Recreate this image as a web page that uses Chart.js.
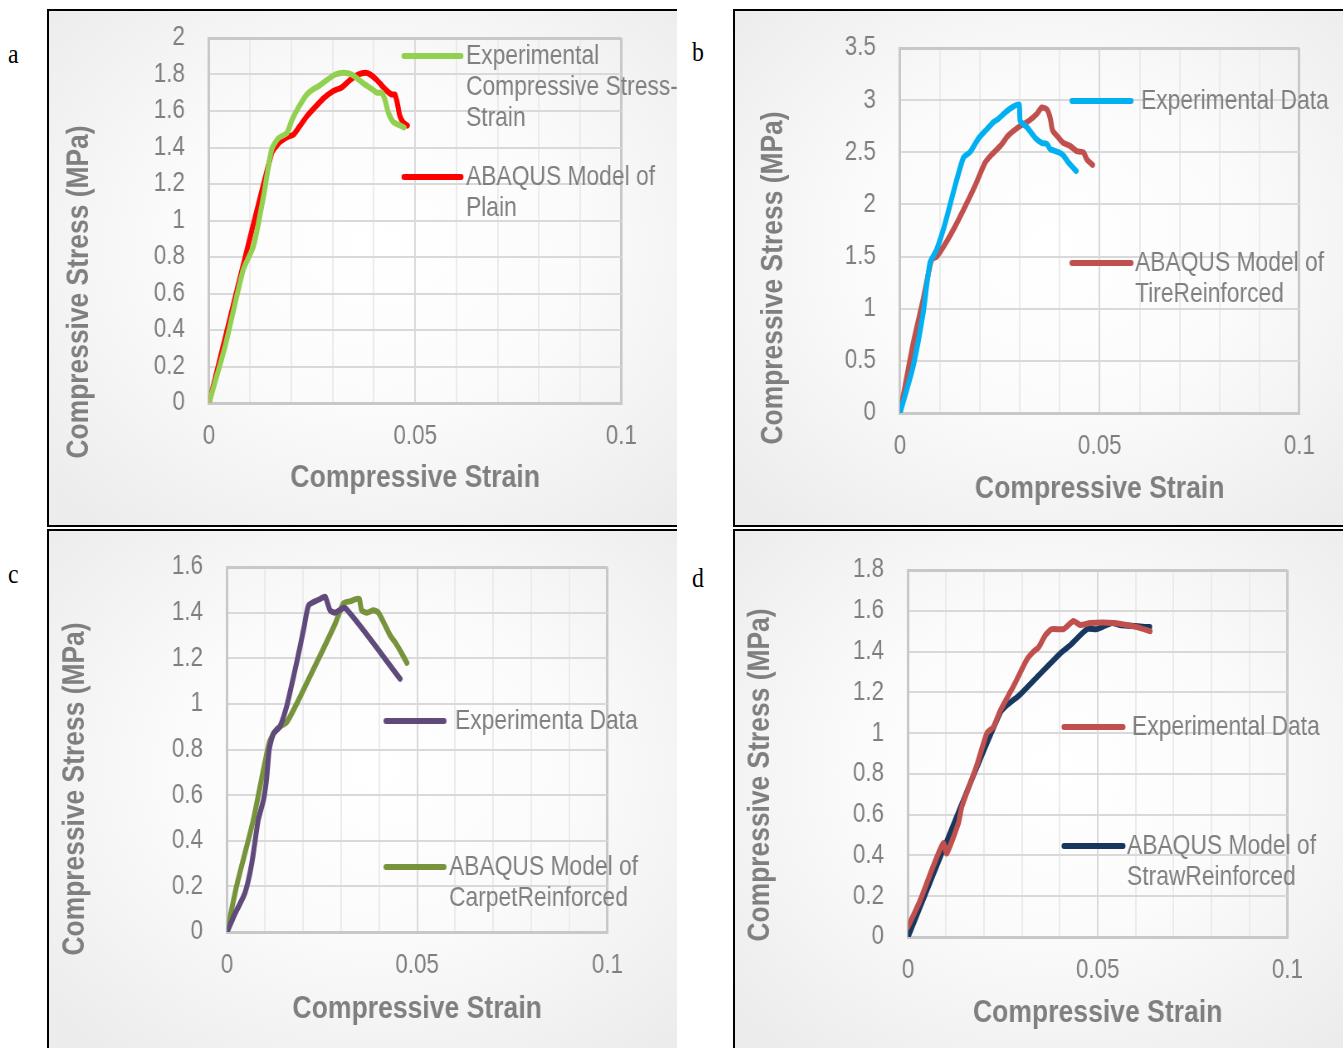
<!DOCTYPE html>
<html>
<head>
<meta charset="utf-8">
<script src="https://cdn.jsdelivr.net/npm/chart.js@4.4.0/dist/chart.umd.min.js"></script>
<style>
  body { margin: 0; width: 1343px; height: 1048px; background: #fff; position: relative; overflow: hidden; }
  .panel { position: absolute; box-sizing: border-box; border: 0 solid #000; overflow: hidden;
    background: radial-gradient(ellipse 70% 70% at 52% 46%, #ffffff 0%, #fbfbfb 45%, #ececec 100%); }
  .panel canvas { position: absolute; left: 0; top: 0; transform-origin: 0 0; }
  .tag { position: absolute; font-family: "Liberation Serif", "Times New Roman", serif; font-size: 28px;
    line-height: 28px; color: #000; transform: scaleX(0.85); transform-origin: left top; }
</style>
</head>
<body>
<div class="tag" style="left:8px;top:40px">a</div>
<div class="tag" style="left:692px;top:38px">b</div>
<div class="tag" style="left:8px;top:560px">c</div>
<div class="tag" style="left:692px;top:564px">d</div>

<div class="panel" style="left:47px;top:9px;width:630px;height:518px;border-width:2px 0 2px 2px"><canvas id="chartA"></canvas></div>
<div class="panel" style="left:733px;top:9px;width:610px;height:518px;border-width:2px 0 2px 2px"><canvas id="chartB"></canvas></div>
<div class="panel" style="left:47px;top:529px;width:630px;height:519px;border-width:2px 0 0 2px"><canvas id="chartC"></canvas></div>
<div class="panel" style="left:733px;top:529px;width:610px;height:519px;border-width:2px 0 0 2px"><canvas id="chartD"></canvas></div>

<script>
// (a) plain specimen
const plainExpStrain = [0, 0.0039, 0.0083, 0.0108, 0.0132, 0.0152, 0.0168, 0.0189, 0.0201, 0.0217, 0.0237, 0.0253, 0.0269, 0.0286, 0.0306, 0.0326, 0.0346, 0.0375, 0.0395, 0.0407, 0.0419, 0.0427, 0.0435, 0.0447, 0.0464, 0.0473];
const plainExpStress = [0, 0.31, 0.73, 0.86, 1.13, 1.39, 1.45, 1.48, 1.55, 1.62, 1.69, 1.72, 1.74, 1.77, 1.80, 1.81, 1.80, 1.75, 1.72, 1.70, 1.70, 1.66, 1.59, 1.54, 1.52, 1.51];
const plainModelStrain = [0, 0.0152, 0.0172, 0.0193, 0.0205, 0.0221, 0.0237, 0.0257, 0.0278, 0.0302, 0.0322, 0.0342, 0.0362, 0.0379, 0.0391, 0.0407, 0.0427, 0.0443, 0.0451, 0.0457, 0.0462, 0.0470, 0.0481];
const plainModelStress = [0, 1.37, 1.43, 1.46, 1.47, 1.52, 1.57, 1.62, 1.67, 1.71, 1.73, 1.77, 1.80, 1.81, 1.80, 1.77, 1.72, 1.69, 1.69, 1.64, 1.58, 1.54, 1.52];

// (b) tire reinforced
const tireExpStrain = [0, 0.0033, 0.0058, 0.0075, 0.0092, 0.0113, 0.0138, 0.0159, 0.0175, 0.0196, 0.0217, 0.0234, 0.0246, 0.0263, 0.0280, 0.0298, 0.0301, 0.0318, 0.0338, 0.0355, 0.0368, 0.0376, 0.0397, 0.0409, 0.0422, 0.0441];
const tireExpStress = [0, 0.45, 0.96, 1.44, 1.57, 1.82, 2.18, 2.45, 2.50, 2.63, 2.72, 2.79, 2.82, 2.88, 2.93, 2.96, 2.80, 2.74, 2.64, 2.59, 2.58, 2.53, 2.50, 2.47, 2.40, 2.32];
const tireModelStrain = [0, 0.0033, 0.0058, 0.0079, 0.0092, 0.0113, 0.0138, 0.0163, 0.0188, 0.0213, 0.0230, 0.0251, 0.0271, 0.0296, 0.0322, 0.0343, 0.0355, 0.0368, 0.0376, 0.0382, 0.0397, 0.0409, 0.0426, 0.0443, 0.0459, 0.0468, 0.0482];
const tireModelStress = [0, 0.67, 1.09, 1.47, 1.50, 1.62, 1.79, 1.98, 2.18, 2.40, 2.48, 2.56, 2.66, 2.74, 2.80, 2.87, 2.93, 2.91, 2.83, 2.71, 2.64, 2.59, 2.56, 2.51, 2.50, 2.43, 2.38];

// (c) carpet reinforced
const carpetExpStrain = [0, 0.0021, 0.0047, 0.0065, 0.0082, 0.0096, 0.0104, 0.0111, 0.0122, 0.0139, 0.0157, 0.0175, 0.0192, 0.0203, 0.0214, 0.0232, 0.0245, 0.0258, 0.0271, 0.0284, 0.0311, 0.0455];
const carpetExpStress = [0, 0.08, 0.17, 0.30, 0.49, 0.58, 0.67, 0.80, 0.87, 0.90, 0.99, 1.12, 1.25, 1.34, 1.43, 1.45, 1.46, 1.47, 1.41, 1.40, 1.42, 1.11];
const carpetModelStrain = [0, 0.0025, 0.0069, 0.0111, 0.0131, 0.0157, 0.0183, 0.0218, 0.0253, 0.0284, 0.0306, 0.0324, 0.0341, 0.0348, 0.0354, 0.0368, 0.0385, 0.0398, 0.0411, 0.0429, 0.0442, 0.0460, 0.0473];
const carpetModelStress = [0, 0.20, 0.49, 0.83, 0.89, 0.92, 1.00, 1.12, 1.24, 1.35, 1.44, 1.45, 1.46, 1.46, 1.41, 1.40, 1.41, 1.40, 1.36, 1.30, 1.27, 1.22, 1.18];

// (d) straw reinforced
const strawExpStrain = [0, 0.0032, 0.0067, 0.0093, 0.0102, 0.0133, 0.0142, 0.0181, 0.0208, 0.0225, 0.0243, 0.0278, 0.0313, 0.0331, 0.0344, 0.0362, 0.0379, 0.0410, 0.0436, 0.0454, 0.0480, 0.0542, 0.0603, 0.0638];
const strawExpStress = [0.05, 0.18, 0.35, 0.46, 0.41, 0.56, 0.64, 0.84, 1.00, 1.03, 1.11, 1.23, 1.36, 1.40, 1.42, 1.48, 1.51, 1.51, 1.55, 1.53, 1.54, 1.54, 1.52, 1.50];
const strawModelStrain = [0, 0.0243, 0.0296, 0.0348, 0.0401, 0.0427, 0.0472, 0.0498, 0.0537, 0.0559, 0.0637];
const strawModelStress = [0, 1.10, 1.19, 1.29, 1.39, 1.43, 1.51, 1.51, 1.54, 1.53, 1.52];

// legend text, one array of wrapped lines per series
const legendA = [['Experimental', 'Compressive Stress-', 'Strain'], ['ABAQUS Model of', 'Plain']];
const legendB = [['Experimental Data'], ['ABAQUS Model of', 'TireReinforced']];
const legendC = [['Experimenta Data'], ['ABAQUS Model of', 'CarpetReinforced']];
const legendD = [['Experimental Data'], ['ABAQUS Model of', 'StrawReinforced']];

const xTickValues = [0, 0.05, 0.1];
const xTitle = 'Compressive Strain';
const yTitle = 'Compressive Stress (MPa)';

const GRAY = '#7f7f7f';
const SANS = '"Liberation Sans", Arial, sans-serif';
// the charts are drawn wide and squeezed horizontally, which gives the condensed lettering
const K = 0.83;

function points(xs, ys) {
  return xs.map((x, i) => ({ x: x, y: ys[i] }));
}

// hand-placed legend: a short thick line followed by wrapped text
const lineLegend = {
  id: 'lineLegend',
  afterDraw(chart, args, opts) {
    const ctx = chart.ctx;
    ctx.save();
    opts.items.forEach((it, i) => {
      const ds = chart.data.datasets[i];
      ctx.strokeStyle = ds.borderColor;
      ctx.lineWidth = 6;
      ctx.lineCap = 'round';
      ctx.beginPath();
      ctx.moveTo(opts.x0, it.y);
      ctx.lineTo(opts.x1, it.y);
      ctx.stroke();
      ctx.fillStyle = GRAY;
      ctx.font = '27.5px ' + SANS;
      ctx.textBaseline = 'middle';
      ctx.textAlign = 'left';
      it.lines.forEach((t, k) => ctx.fillText(t, it.tx, it.y + k * 31));
    });
    ctx.restore();
  }
};

// rotated value-axis title, placed freely along the axis; the second scale
// undoes the horizontal squeeze so the letters keep their full weight
const sideTitle = {
  id: 'sideTitle',
  afterDraw(chart, args, opts) {
    const ctx = chart.ctx;
    ctx.save();
    ctx.translate(opts.x, opts.y);
    ctx.rotate(-Math.PI / 2);
    ctx.scale(0.88, 1 / K);
    ctx.fillStyle = GRAY;
    ctx.font = 'bold 30px ' + SANS;
    ctx.textAlign = 'center';
    ctx.textBaseline = 'middle';
    ctx.fillText(opts.text, 0, 0);
    ctx.restore();
  }
};

function makeChart(id, s) {
  const canvas = document.getElementById(id);
  canvas.width = Math.round(s.w / K);
  canvas.height = s.h;
  canvas.style.transform = 'scaleX(' + K + ')';

  const datasets = s.series.map(sr => ({
    label: sr.lines.join(' '),
    data: points(sr.xs, sr.ys),
    borderColor: sr.color,
    backgroundColor: sr.color,
    borderWidth: 6,
    pointRadius: 0,
    showLine: true,
    tension: 0.2,
    borderCapStyle: 'round',
    borderJoinStyle: 'round'
  }));

  return new Chart(canvas, {
    type: 'scatter',
    data: { datasets: datasets },
    plugins: [lineLegend, sideTitle],
    options: {
      responsive: false,
      animation: false,
      events: [],
      layout: { padding: { left: 0, top: s.top, right: s.right / K, bottom: 0 } },
      plugins: {
        legend: { display: false },
        tooltip: { enabled: false },
        lineLegend: {
          x0: s.legend.x0 / K, x1: s.legend.x1 / K,
          items: s.series.map((sr, i) => ({ lines: sr.lines, y: s.legend.ys[i], tx: s.legend.tx[i] / K }))
        },
        sideTitle: { text: yTitle, x: s.yTitle[0] / K, y: s.yTitle[1] }
      },
      scales: {
        x: {
          type: 'linear',
          min: 0, max: 0.1,
          afterFit: sc => {
            sc.height = s.xHeight;
            sc.paddingLeft = 0; sc.paddingRight = 0;
          },
          afterBuildTicks: sc => {
            sc.ticks = [];
            for (let k = 0; k <= 10; k++) sc.ticks.push({ value: k / 100 });
          },
          ticks: {
            autoSkip: false, maxRotation: 0, padding: 17,
            color: GRAY, font: { family: SANS, size: 27 },
            callback: v => {
              const hit = xTickValues.find(t => Math.abs(t - v) < 1e-9);
              return hit === undefined ? '' : String(hit);
            }
          },
          grid: {
            drawTicks: false,
            lineWidth: c => (c.tick && Math.abs(c.tick.value - 0.1) < 1e-9) ? 3 : 2,
            color: c => {
              const v = c.tick ? c.tick.value : 0;
              if (Math.abs(v - 0.1) < 1e-9) return '#c8c8c8';
              return xTickValues.some(t => Math.abs(t - v) < 1e-9) ? '#d9d9d9' : '#ebebeb';
            }
          },
          border: { display: true, color: '#c8c8c8', width: 3 },
          title: {
            display: true, text: xTitle, color: GRAY,
            font: { family: SANS, size: 32, weight: 'bold' },
            padding: { top: 0, bottom: s.xTitlePad }
          }
        },
        y: {
          min: 0, max: s.yMax,
          afterFit: sc => {
            sc.width = s.yWidth / K;
            sc.paddingTop = 0; sc.paddingBottom = 0;
          },
          ticks: {
            stepSize: s.yStep, padding: 24 / K, autoSkip: false,
            color: GRAY, font: { family: SANS, size: 27 },
            callback: v => String(+v.toFixed(1))
          },
          grid: {
            drawTicks: false,
            lineWidth: c => (c.tick && Math.abs(c.tick.value - s.yMax) < 1e-9) ? 3 : 2,
            color: c => (c.tick && Math.abs(c.tick.value - s.yMax) < 1e-9) ? '#c8c8c8' : '#d9d9d9'
          },
          border: { display: true, color: '#c8c8c8', width: 3 },
          title: { display: false }
        }
      }
    }
  });
}

makeChart('chartA', {
  w: 628, h: 514,
  series: [
    { lines: legendA[0], xs: plainExpStrain, ys: plainExpStress, color: '#92d050' },
    { lines: legendA[1], xs: plainModelStrain, ys: plainModelStress, color: '#ff0000' }
  ],
  yMax: 2, yStep: 0.2,
  top: 27, right: 56, yWidth: 160, xHeight: 122, xTitlePad: 28,
  legend: { x0: 355, x1: 412, ys: [45, 166], tx: [417, 417] },
  yTitle: [31, 281]
});

makeChart('chartB', {
  w: 608, h: 514,
  series: [
    { lines: legendB[0], xs: tireExpStrain, ys: tireExpStress, color: '#00b0f0' },
    { lines: legendB[1], xs: tireModelStrain, ys: tireModelStress, color: '#c0504d' }
  ],
  yMax: 3.5, yStep: 0.5,
  top: 37, right: 44, yWidth: 165, xHeight: 112, xTitlePad: 17,
  legend: { x0: 337, x1: 396, ys: [90, 252], tx: [406, 400] },
  yTitle: [39, 267]
});

makeChart('chartC', {
  w: 628, h: 517,
  series: [
    { lines: legendC[0], xs: carpetExpStrain, ys: carpetExpStress, color: '#604a7b' },
    { lines: legendC[1], xs: carpetModelStrain, ys: carpetModelStress, color: '#77933c' }
  ],
  yMax: 1.6, yStep: 0.2,
  top: 36, right: 70, yWidth: 178, xHeight: 116, xTitlePad: 20,
  legend: { x0: 337, x1: 395, ys: [190, 336], tx: [406, 400] },
  yTitle: [27, 258]
});

makeChart('chartD', {
  w: 608, h: 517,
  series: [
    { lines: legendD[0], xs: strawExpStrain, ys: strawExpStress, color: '#c0504d' },
    { lines: legendD[1], xs: strawModelStrain, ys: strawModelStress, color: '#17375e' }
  ],
  yMax: 1.8, yStep: 0.2,
  top: 39, right: 56, yWidth: 173, xHeight: 111, xTitlePad: 16,
  legend: { x0: 329, x1: 388, ys: [196, 315], tx: [397, 392] },
  yTitle: [26, 244]
});
</script>
</body>
</html>
